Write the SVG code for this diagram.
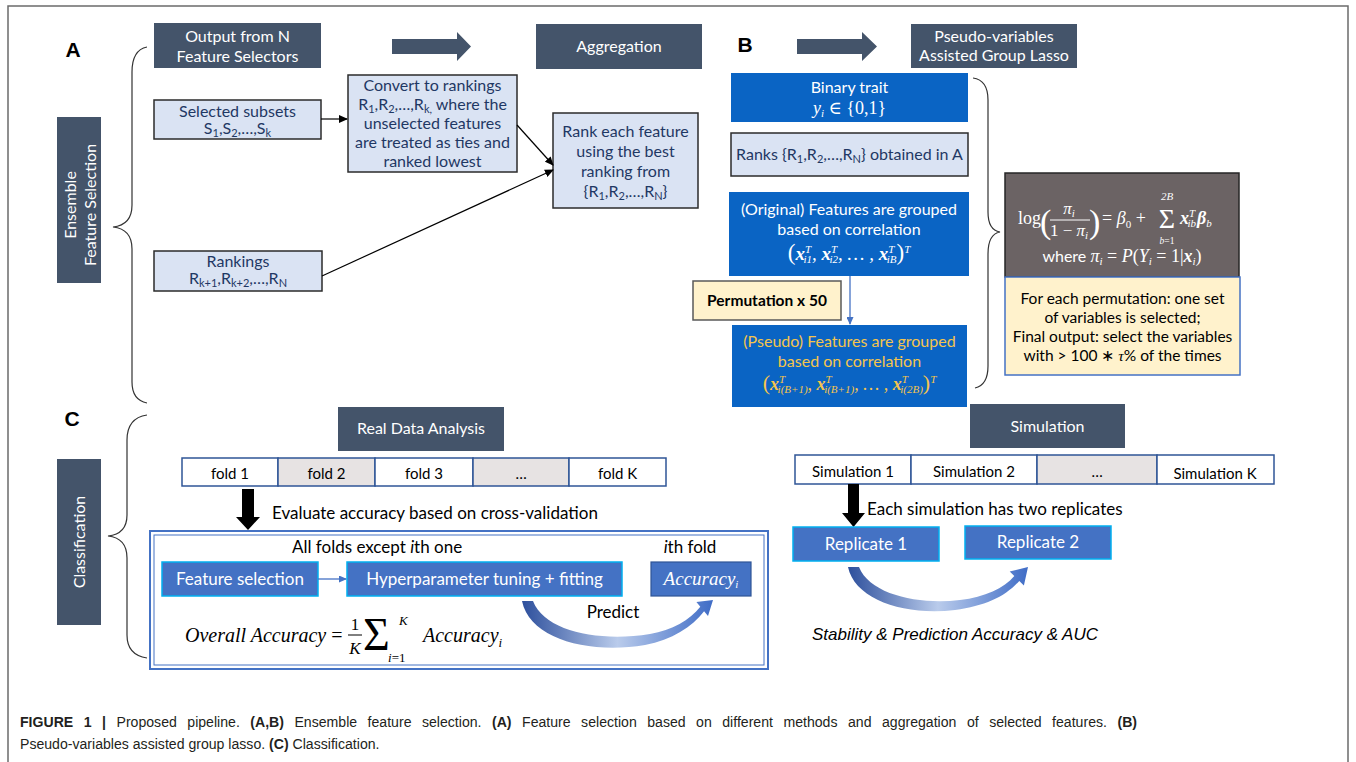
<svg xmlns="http://www.w3.org/2000/svg" width="1356" height="762" viewBox="0 0 1356 762">
<style>
.hdr{fill:#44546a}
.ht{font-family:Lato,'Open Sans',sans-serif;font-size:16px;fill:#fff;text-anchor:middle}
.lb{fill:#dae3f3;stroke:#2b2b2b;stroke-width:1.5}
.lt{font-family:Lato,'Open Sans',sans-serif;font-size:16px;fill:#1f3864;text-anchor:middle}
.bb{fill:#0a64c4}
.wt{font-family:Lato,'Open Sans',sans-serif;font-size:16px;fill:#fff;text-anchor:middle}
.yt{font-family:Lato,'Open Sans',sans-serif;font-size:16px;fill:#f5c54c;text-anchor:middle}
.m{font-family:'Liberation Serif','DejaVu Serif',serif;font-style:italic}
.up{font-style:normal}
.mb{font-style:italic;font-weight:bold}
.s{font-size:11px;baseline-shift:-3px}
.p{font-size:11px;baseline-shift:7px}
.lbl{font-family:'Liberation Sans',Arial,sans-serif;font-weight:bold;font-size:21px;fill:#000}
.cb{fill:#4472c4;stroke:#00b0f0;stroke-width:1.5}
.ct{font-family:Lato,'Open Sans',sans-serif;font-size:17px;fill:#fff;text-anchor:middle}
.bt{font-family:Lato,'Open Sans',sans-serif;font-size:17px;fill:#000}
.cell{stroke:#2f5597;stroke-width:1.5}
.ft{font-family:Lato,'Open Sans',sans-serif;font-size:15px;fill:#000;text-anchor:middle}
.brace{fill:none;stroke:#333;stroke-width:1.2}
.conn{fill:none;stroke:#000;stroke-width:1.2}
.bconn{fill:none;stroke:#4472c4;stroke-width:1.3}
.blk{fill:#44546a}
.cap{font-family:'Liberation Sans',Arial,sans-serif;font-size:15px;fill:#231f20}
</style>
<defs>
<marker id="ah" markerWidth="9" markerHeight="8" refX="8" refY="4" orient="auto" markerUnits="userSpaceOnUse"><path d="M0,0 L9,4 L0,8 z" fill="#000"/></marker>
<marker id="ahb" markerWidth="8" markerHeight="7" refX="7" refY="3.5" orient="auto" markerUnits="userSpaceOnUse"><path d="M0,0 L8,3.5 L0,7 z" fill="#4472c4"/></marker>
<linearGradient id="cres" x1="0" y1="0" x2="1" y2="0">
<stop offset="0" stop-color="#2d4f9c"/>
<stop offset="0.5" stop-color="#b9cbeb"/>
<stop offset="1" stop-color="#3f6cc6"/>
</linearGradient>
</defs>
<rect width="1356" height="762" fill="#fff"/>
<path d="M8,762 V6 H1348 V762" fill="none" stroke="#6b6b6b" stroke-width="1.5"/>

<!-- Panel labels -->
<text x="73" y="57" class="lbl" text-anchor="middle">A</text>
<text x="745" y="52" class="lbl" text-anchor="middle">B</text>
<text x="72" y="426" class="lbl" text-anchor="middle">C</text>

<!-- Braces -->
<g id="braces">
<path class="brace" d="M147,47 Q132,50 132,72 L132,205 Q132,225 113,227 Q132,229 132,249 L132,382 Q132,400 147,403"/>
<path class="brace" d="M973,78 Q988,80 988,100 L988,212 Q988,230 1000,232 Q988,234 988,254 L988,366 Q988,385 975,388"/>
<path class="brace" d="M147,415 Q127,418 127,440 L127,515 Q127,534 108,536 Q127,538 127,558 L127,635 Q127,655 147,658"/>
</g>

<!-- Panel A -->
<g id="ensemble"><rect x="57" y="117" width="44" height="166" class="hdr"/><text transform="translate(79,205) rotate(-90)" class="ht"><tspan x="0" y="-3">Ensemble</tspan><tspan x="0" y="17">Feature Selection</tspan></text></g>
<g id="output-hdr"><rect x="154" y="23" width="167" height="45" class="hdr"/><text class="ht"><tspan x="237.5" y="42">Output from N</tspan><tspan x="237.5" y="62">Feature Selectors</tspan></text></g>
<g id="aggregation-hdr"><rect x="536" y="24" width="166" height="45" class="hdr"/><text x="619" y="52" class="ht">Aggregation</text></g>
<g id="selected"><rect x="154" y="100" width="167" height="39" class="lb"/><text class="lt"><tspan x="237.5" y="117">Selected subsets</tspan><tspan x="237.5" y="134">S<tspan class="s">1</tspan>,S<tspan class="s">2</tspan>,…,S<tspan class="s">k</tspan></tspan></text></g>
<g id="rankings"><rect x="154" y="251" width="168" height="40" class="lb"/><text class="lt"><tspan x="238" y="267">Rankings</tspan><tspan x="238" y="284">R<tspan class="s">k+1</tspan>,R<tspan class="s">k+2</tspan>,…,R<tspan class="s">N</tspan></tspan></text></g>
<g id="convert"><rect x="348" y="75" width="169" height="97" class="lb"/><text class="lt"><tspan x="432.5" y="91">Convert to rankings</tspan><tspan x="432.5" y="110">R<tspan class="s">1</tspan>,R<tspan class="s">2</tspan>,…,R<tspan class="s">k,</tspan> where the</tspan><tspan x="432.5" y="129">unselected features</tspan><tspan x="432.5" y="148">are treated as ties and</tspan><tspan x="432.5" y="167">ranked lowest</tspan></text></g>
<g id="rank-best"><rect x="553" y="113" width="145" height="95" class="lb"/><text class="lt"><tspan x="625.5" y="137">Rank each feature</tspan><tspan x="625.5" y="157">using the best</tspan><tspan x="625.5" y="177">ranking from</tspan><tspan x="625.5" y="197">{R<tspan class="s">1</tspan>,R<tspan class="s">2</tspan>,…,R<tspan class="s">N</tspan>}</tspan></text></g>
<g id="block-arrows">
<polygon class="blk" points="392,39 457,39 457,32 471,46.5 457,61 457,54 392,54"/>
<polygon class="blk" points="797,39 862,39 862,32 877,46.5 862,61 862,54 797,54"/>
</g>

<!-- Panel B -->
<g id="pseudo-hdr"><rect x="911" y="24" width="166" height="44" class="hdr"/><text class="ht"><tspan x="994" y="42">Pseudo-variables</tspan><tspan x="994" y="61">Assisted Group Lasso</tspan></text></g>
<g id="binary"><rect x="731" y="73" width="237" height="49" class="bb"/><text class="wt"><tspan x="849.5" y="93">Binary trait</tspan></text><text x="849.5" y="114" class="m" font-size="18" fill="#fff" text-anchor="middle">y<tspan class="s">i</tspan><tspan class="up"> ∈ {0,1}</tspan></text></g>
<g id="ranks"><rect x="731" y="133" width="237" height="43" class="lb"/><text x="849.5" y="160" class="lt">Ranks {R<tspan class="s">1</tspan>,R<tspan class="s">2</tspan>,…,R<tspan class="s">N</tspan>} obtained in A</text></g>
<g id="original"><rect x="729" y="192" width="240" height="84" class="bb"/><text class="wt"><tspan x="849" y="215">(Original) Features are grouped</tspan><tspan x="849" y="235">based on correlation</tspan></text><text x="849" y="260" class="m" font-size="19" fill="#fff" text-anchor="middle"><tspan class="up" font-size="23">(</tspan><tspan class="mb">x</tspan><tspan class="p">T</tspan><tspan class="s" dx="-7">i1</tspan>, <tspan class="mb">x</tspan><tspan class="p">T</tspan><tspan class="s" dx="-7">i2</tspan>, … , <tspan class="mb">x</tspan><tspan class="p">T</tspan><tspan class="s" dx="-7">iB</tspan><tspan class="up" font-size="23">)</tspan><tspan class="p">T</tspan></text></g>
<g id="permutation"><rect x="693" y="281" width="148" height="39" fill="#fff2cc" stroke="#595959" stroke-width="1.5"/><text x="767" y="306" font-family="Lato,'Open Sans',sans-serif" font-weight="bold" font-size="15.5" text-anchor="middle" fill="#000">Permutation x 50</text></g>
<g id="pseudo"><rect x="732" y="325" width="235" height="82" class="bb"/><text class="yt"><tspan x="849.5" y="347">(Pseudo) Features are grouped</tspan><tspan x="849.5" y="367">based on correlation</tspan></text><text x="849.5" y="390" class="m" font-size="18" fill="#f5c54c" text-anchor="middle"><tspan class="up" font-size="22">(</tspan><tspan class="mb">x</tspan><tspan class="p">T</tspan><tspan class="s" dx="-7">i(B+1)</tspan>, <tspan class="mb">x</tspan><tspan class="p">T</tspan><tspan class="s" dx="-7">i(B+1)</tspan>, … , <tspan class="mb">x</tspan><tspan class="p">T</tspan><tspan class="s" dx="-7">i(2B)</tspan><tspan class="up" font-size="22">)</tspan><tspan class="p">T</tspan></text></g>
<g id="model"><rect x="1005" y="173" width="234" height="104" fill="#6b6364" stroke="#262626" stroke-width="1.5"/>
<g font-family="'Liberation Serif','DejaVu Serif',serif" fill="#fff">
<text x="1018" y="224" font-size="18">log</text>
<text x="1040" y="233" font-size="34">(</text>
<text x="1069" y="214" font-size="17" font-style="italic" text-anchor="middle">π<tspan class="s">i</tspan></text>
<line x1="1050" y1="220" x2="1090" y2="220" stroke="#fff" stroke-width="1"/>
<text x="1069" y="236" font-size="17" font-style="italic" text-anchor="middle"><tspan font-style="normal">1 − </tspan>π<tspan class="s">i</tspan></text>
<text x="1089" y="233" font-size="34">)</text>
<text x="1102" y="224" font-size="18">= <tspan font-style="italic">β</tspan><tspan font-size="11" baseline-shift="-4">0</tspan> +</text>
<text x="1167" y="228" font-size="28" text-anchor="middle">Σ</text>
<text x="1167" y="200" font-size="11" font-style="italic" text-anchor="middle">2B</text>
<text x="1167" y="243.5" font-size="9.5" font-style="italic" text-anchor="middle">b<tspan font-style="normal">=1</tspan></text>
<text x="1180" y="224" font-size="18"><tspan class="mb">x</tspan><tspan class="p" font-style="italic">T</tspan><tspan class="s" font-style="italic" dx="-7">ib</tspan><tspan class="mb" dx="1">β</tspan><tspan class="s" font-style="italic">b</tspan></text>
<text x="1122" y="262" font-size="18" text-anchor="middle"><tspan font-family="Lato,'Open Sans',sans-serif" font-size="16">where </tspan><tspan font-style="italic">π</tspan><tspan class="s" font-style="italic">i</tspan> = <tspan font-style="italic">P</tspan>(<tspan font-style="italic">Y</tspan><tspan class="s" font-style="italic">i</tspan> = 1|<tspan class="mb">x</tspan><tspan class="s" font-style="italic">i</tspan>)</text>
</g></g>
<g id="output-rule"><rect x="1005" y="277" width="235" height="98" fill="#fff2cc" stroke="#4472c4" stroke-width="1.5"/><text font-family="Lato,'Open Sans',sans-serif" font-size="15.5" fill="#000" text-anchor="middle"><tspan x="1122.5" y="304">For each permutation: one set</tspan><tspan x="1122.5" y="323">of variables is selected;</tspan><tspan x="1122.5" y="342">Final output: select the variables</tspan><tspan x="1122.5" y="361">with &gt; 100 <tspan font-family="'Liberation Serif',serif">∗ <tspan font-style="italic">τ</tspan></tspan>% of the times</tspan></text></g>

<!-- Panel C left -->
<g id="classification"><rect x="57" y="459" width="44" height="166" class="hdr"/><text transform="translate(79,542) rotate(-90)" class="ht"><tspan x="0" y="6">Classification</tspan></text></g>
<g id="real-data-hdr"><rect x="338" y="407" width="166" height="44" class="hdr"/><text x="421" y="434" class="ht">Real Data Analysis</text></g>
<g id="folds">
<rect x="182" y="458" width="96" height="28" fill="#fff" class="cell"/>
<rect x="278" y="458" width="97" height="28" fill="#e7e3e3" class="cell"/>
<rect x="375" y="458" width="98" height="28" fill="#fff" class="cell"/>
<rect x="473" y="458" width="96" height="28" fill="#e7e3e3" class="cell"/>
<rect x="569" y="458" width="97" height="28" fill="#fff" class="cell"/>
<text y="479" class="ft"><tspan x="230">fold 1</tspan><tspan x="326.5">fold 2</tspan><tspan x="424">fold 3</tspan><tspan x="521">…</tspan><tspan x="617.5">fold K</tspan></text>
</g>
<polygon fill="#000" points="242,489 254,489 254,517 260,517 248,530 236,517 242,517"/>
<text x="272" y="519" class="bt" font-size="17.5">Evaluate accuracy based on cross-validation</text>
<g id="cv-box">
<rect x="150" y="531" width="618" height="138" fill="#fff" stroke="#4472c4" stroke-width="2"/>
<rect x="154" y="535" width="610" height="130" fill="none" stroke="#4472c4" stroke-width="1"/>
<text x="292" y="553" class="bt" font-size="16.5">All folds except <tspan font-style="italic">i</tspan>th one</text>
<text x="690" y="553" class="bt" font-size="15" text-anchor="middle"><tspan font-style="italic">i</tspan>th fold</text>
</g>
<g id="feature-selection"><rect x="162" y="562" width="156" height="34" class="cb"/><text x="240" y="585" class="ct" font-size="18">Feature selection</text></g>
<g id="hyper"><rect x="347" y="562" width="275" height="34" class="cb"/><text x="484.5" y="585" class="ct" font-size="18">Hyperparameter tuning + fitting</text></g>
<g id="accuracy"><rect x="651" y="562" width="100" height="34" fill="#4472c4" stroke="#2f5597" stroke-width="1.2"/><text x="701" y="585" class="m" font-size="19" fill="#fff" text-anchor="middle">Accuracy<tspan class="s">i</tspan></text></g>
<g id="overall">
<text x="185" y="642" class="m" font-size="20" fill="#000">Overall Accuracy <tspan class="up">=</tspan></text>
<text x="355" y="630" font-family="'Liberation Serif',serif" font-size="17" text-anchor="middle">1</text>
<line x1="348" y1="635" x2="362" y2="635" stroke="#000" stroke-width="1"/>
<text x="355" y="654" class="m" font-size="17" text-anchor="middle">K</text>
<text x="363" y="650" font-family="'Liberation Serif',serif" font-size="46">Σ</text>
<text x="399" y="625" class="m" font-size="13">K</text>
<text x="388" y="662" class="m" font-size="13">i<tspan class="up">=1</tspan></text>
<text x="423" y="642" class="m" font-size="20">Accuracy<tspan font-size="13" baseline-shift="-5">i</tspan></text>
</g>
<text x="613" y="618" class="bt" font-size="17" text-anchor="middle">Predict</text>

<!-- Panel C right -->
<g id="simulation-hdr"><rect x="970" y="404" width="155" height="44" class="hdr"/><text x="1047.5" y="432" class="ht">Simulation</text></g>
<g id="sims">
<rect x="795" y="455" width="116" height="29" fill="#fff" class="cell"/>
<rect x="911" y="455" width="126" height="29" fill="#fff" class="cell"/>
<rect x="1037" y="455" width="120" height="29" fill="#e7e3e3" class="cell"/>
<rect x="1157" y="455" width="117" height="29" fill="#fff" class="cell"/>
<text class="ft"><tspan x="853" y="477">Simulation 1</tspan><tspan x="974" y="477">Simulation 2</tspan><tspan x="1097" y="477">…</tspan><tspan x="1215" y="479">Simulation K</tspan></text>
</g>
<polygon fill="#000" points="848,484 859,484 859,513 865,513 853.5,527 842,513 848,513"/>
<text x="867" y="515" class="bt" font-size="17">Each simulation has two replicates</text>
<g id="replicate1"><rect x="793" y="527" width="146" height="34" class="cb"/><text x="866" y="550" class="ct" font-size="18">Replicate 1</text></g>
<g id="replicate2"><rect x="965" y="526" width="146" height="33" class="cb"/><text x="1038" y="548" class="ct" font-size="18">Replicate 2</text></g>
<text x="812" y="640" font-family="'Liberation Sans',Arial,sans-serif" font-style="italic" font-size="17" fill="#000">Stability &amp; Prediction Accuracy &amp; AUC</text>

<!-- Connectors -->
<g id="connectors">
<line class="conn" x1="321" y1="119" x2="347" y2="119" marker-end="url(#ah)"/>
<line class="conn" x1="517" y1="125" x2="553" y2="165" marker-end="url(#ah)"/>
<line class="conn" x1="322" y1="276" x2="553" y2="170" marker-end="url(#ah)"/>
<line class="bconn" x1="850" y1="276" x2="850" y2="324" marker-end="url(#ahb)"/>
<line class="bconn" x1="318" y1="579" x2="346" y2="579" marker-end="url(#ahb)"/>
<path fill="url(#cres)" d="M522,601 L533,601 C545,632 600,642 650,634 C672,630 690,620 700.3,606.7 L696.4,602.1 L713,600 L708,616 L704.1,611.3 C692,627 672,640 645,645 C590,654 530,640 522,601 Z"/>
<path fill="url(#cres)" d="M848,567 L859,567 C870,595 920,605 960,600 C985,597 1004,588 1014.3,575.9 L1009.7,571.4 L1028,567 L1023.9,585.4 L1019.3,580.9 C1005,597 985,606 955,610 C905,616 855,600 848,567 Z"/>
</g>

<!-- Caption -->
<text transform="translate(20,727) scale(0.94,1)" class="cap" word-spacing="7"><tspan font-weight="bold">FIGURE 1 | </tspan>Proposed pipeline. <tspan font-weight="bold">(A,B)</tspan> Ensemble feature selection. <tspan font-weight="bold">(A)</tspan> Feature selection based on different methods and aggregation of selected features. <tspan font-weight="bold">(B)</tspan></text>
<text transform="translate(20,749) scale(0.94,1)" class="cap">Pseudo-variables assisted group lasso. <tspan font-weight="bold">(C)</tspan> Classification.</text>
</svg>
